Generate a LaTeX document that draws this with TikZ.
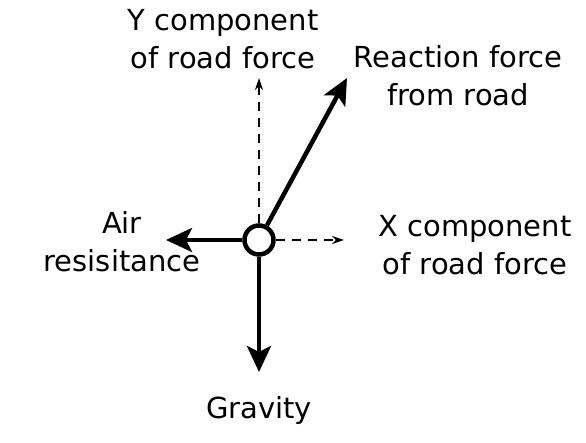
\documentclass[tikz,border=0pt]{standalone}
\usepackage{fontspec}
\setmainfont{DejaVu Sans}
\usetikzlibrary{arrows.meta}

\begin{document}
\begin{tikzpicture}[x=1pt,y=-1pt,
    force/.style={line width=4.5pt,-{Stealth[length=26pt,width=24pt,inset=6pt]}},
    comp/.style={line width=1.6pt,dash pattern=on 9pt off 7pt,-{Stealth[length=12pt,width=8pt]}},
    lbl/.style={align=center,font=\fontsize{29}{38}\selectfont}]
      \useasboundingbox (0,0) rectangle (586,443);
      \node[draw,circle,line width=4.5pt,minimum size=29pt,inner sep=0pt] (obj) at (259,240) {};
      \coordinate (ytip) at (259,78);
      \coordinate (xtip) at (344,240);
      \coordinate (rtip) at (347,78);
      \coordinate (atip) at (166,240);
      \coordinate (gtip) at (259,372);
      \draw[comp] (obj) -- (ytip);
      \draw[comp] (obj) -- (xtip);
      \draw[force] (obj) -- (rtip);
      \draw[force] (obj) -- (atip);
      \draw[force] (obj) -- (gtip);
      \node[lbl] (ylbl) at (223,39) {Y component\\of road force};
      \node[lbl] (rlbl) at (458,76) {Reaction force\\from road};
      \node[lbl] (xlbl) at (475,245) {X component\\of road force};
      \node[lbl] (albl) at (122,242) {Air\\resisitance};
      \node[lbl] (glbl) at (259,410) {Gravity};
    \end{tikzpicture}
\end{document}
